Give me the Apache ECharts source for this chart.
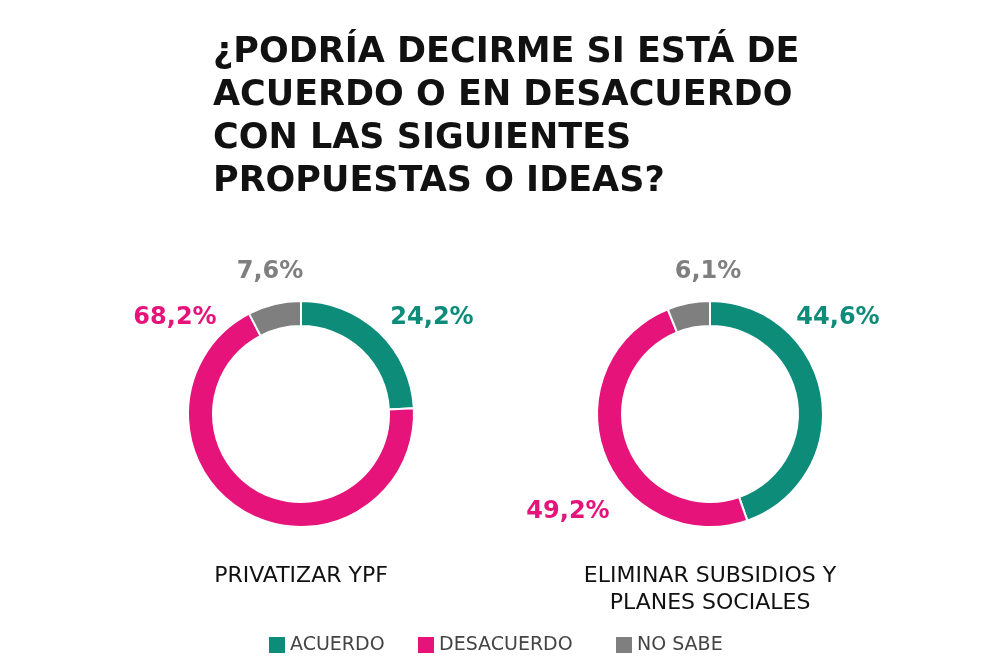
<!DOCTYPE html>
<html><head><meta charset="utf-8">
<script src="https://cdn.jsdelivr.net/npm/echarts@6/dist/echarts.min.js"></script>
<style>html,body{margin:0;padding:0;background:#fff}#c{width:1000px;height:667px}</style>
</head><body><div id="c"></div>
<script>
const categories = ['ACUERDO', 'DESACUERDO', 'NO SABE'];
const ypfValues = [24.2, 68.2, 7.6];
const subsidiosValues = [44.6, 49.2, 6.1];
const proposals = ['PRIVATIZAR YPF', 'ELIMINAR SUBSIDIOS Y\nPLANES SOCIALES'];
const titleText = '¿PODRÍA DECIRME SI ESTÁ DE\nACUERDO O EN DESACUERDO\nCON LAS SIGUIENTES\nPROPUESTAS O IDEAS?';

const colors = ['#0e8c7a', '#e5137a', '#7f7f7f'];
const centers = [[301, 414], [710, 414]];
const labelPos = [
  [[432, 318], [175, 318], [270, 272]],
  [[838, 318], [568, 512], [708, 272]]
];
const legendLeft = [267, 416, 614];
const boldFont = 'DejaVu Sans';

function fmt(v){ return v.toFixed(1).replace('.', ',') + '%'; }
function makeSeries(vals, idx){
  return {
    type: 'pie',
    center: centers[idx],
    radius: [88, 113],
    startAngle: 90,
    clockwise: true,
    silent: true,
    itemStyle: { borderColor: '#fff', borderWidth: 2 },
    label: {
      show: true, position: 'outside',
      formatter: p => fmt(p.value),
      fontFamily: boldFont, fontWeight: 'bold', fontSize: 24,
      color: 'inherit'
    },
    labelLine: { show: false },
    labelLayout: function(params){
      const p = labelPos[idx][params.dataIndex];
      return { x: p[0], y: p[1], align: 'center', verticalAlign: 'middle' };
    },
    data: vals.map((v, i) => ({ name: categories[i], value: v, label: { color: colors[i] } }))
  };
}

const chart = echarts.init(document.getElementById('c'));
chart.setOption({
  animation: false,
  color: colors,
  title: [
    { text: titleText, left: 208, top: 26,
      textStyle: { fontFamily: boldFont, fontWeight: 'bold', fontSize: 35, lineHeight: 43, color: '#111' } },
    { text: proposals[0], left: 301, top: 563, textAlign: 'center', padding: 0,
      textStyle: { fontFamily: 'DejaVu Sans', fontWeight: 'normal', fontSize: 22, lineHeight: 27, color: '#111' } },
    { text: proposals[1], left: 710, top: 563, textAlign: 'center', padding: 0,
      textStyle: { fontFamily: 'DejaVu Sans', fontWeight: 'normal', fontSize: 22, lineHeight: 27, color: '#111' } }
  ],
  legend: categories.map((c, i) => ({
    data: [c],
    left: legendLeft[i], top: 635, padding: 0,
    icon: 'rect', itemWidth: 18, itemHeight: 18,
    selectedMode: false,
    textStyle: { fontFamily: 'DejaVu Sans', fontSize: 19, color: '#444', padding: [0, 0, 0, -1] }
  })),
  series: [makeSeries(ypfValues, 0), makeSeries(subsidiosValues, 1)]
});
</script></body></html>
